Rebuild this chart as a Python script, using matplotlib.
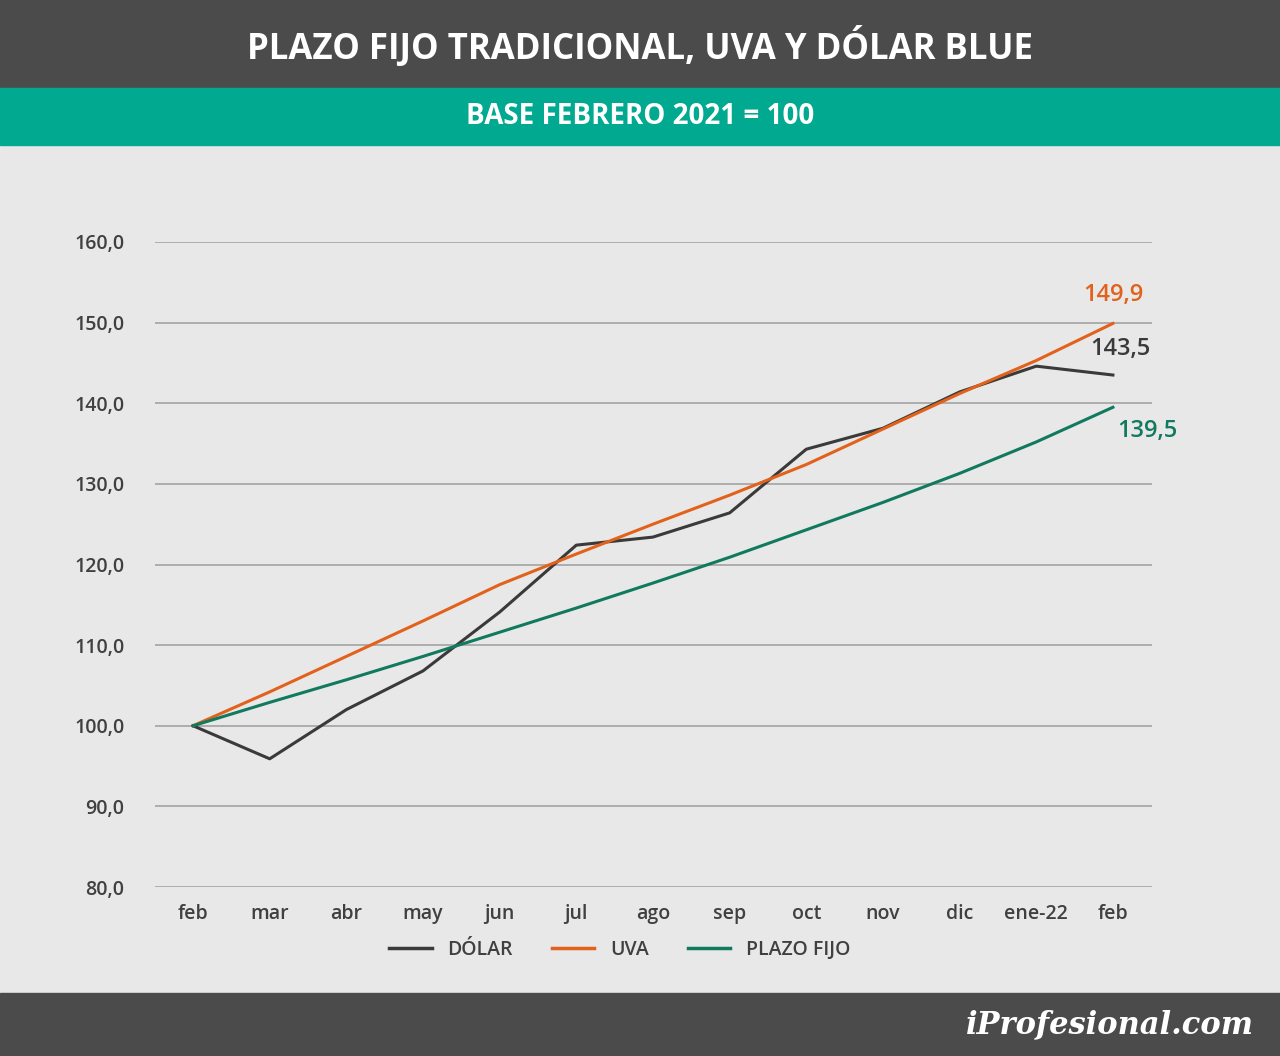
import matplotlib.pyplot as plt
from matplotlib.lines import Line2D
import matplotlib.patches as patches

meses = ['feb', 'mar', 'abr', 'may', 'jun', 'jul', 'ago', 'sep', 'oct', 'nov', 'dic', 'ene-22', 'feb']
dolar = [100, 95.9, 102.0, 106.8, 114.1, 122.4, 123.4, 126.4, 134.3, 136.9, 141.4, 144.6, 143.5]
uva = [100, 104.2, 108.6, 113.0, 117.5, 121.3, 125.0, 128.6, 132.4, 136.8, 141.2, 145.3, 149.9]
plazo_fijo = [100, 102.9, 105.7, 108.6, 111.6, 114.6, 117.7, 120.9, 124.3, 127.7, 131.3, 135.2, 139.5]
yticks = [80, 90, 100, 110, 120, 130, 140, 150, 160]

c_dolar = '#3a3a3a'
c_uva = '#e2621b'
c_pf = '#117a5e'

plt.rcParams['font.family'] = ['Open Sans', 'DejaVu Sans']
fig = plt.figure(figsize=(12.8, 10.56), dpi=100)
fig.patch.set_facecolor('#e8e8e9')

# bandas de titulo y pie
fig.add_artist(patches.Rectangle((0, 1 - 88 / 1056), 1, 88 / 1056, transform=fig.transFigure, color='#4b4b4b'))
fig.add_artist(patches.Rectangle((0, 1 - 145 / 1056), 1, 57 / 1056, transform=fig.transFigure, color='#00a98f'))
fig.add_artist(patches.Rectangle((0, 0), 1, 63 / 1056, transform=fig.transFigure, color='#4b4b4b'))
fig.text(0.5, 1 - 48 / 1056, 'PLAZO FIJO TRADICIONAL, UVA Y DÓLAR BLUE', color='white',
         fontsize=25, fontweight='bold', ha='center', va='center', fontstretch='condensed')
fig.text(0.5, 1 - 117 / 1056, 'BASE FEBRERO 2021 = 100', color='white',
         fontsize=20, fontweight='bold', ha='center', va='center')
fig.text(0.98, 31 / 1056, 'iProfesional.com', color='white', fontsize=22, fontstyle='italic',
         fontweight='bold', ha='right', va='center', family='DejaVu Serif')

ax = fig.add_axes([155 / 1280, 1 - 887 / 1056, 997 / 1280, 645 / 1056])
ax.set_facecolor('none')
x = list(range(len(meses)))
ax.plot(x, dolar, color=c_dolar, lw=2.2)
ax.plot(x, uva, color=c_uva, lw=2.2)
ax.plot(x, plazo_fijo, color=c_pf, lw=2.2)

ax.set_xlim(-0.496, 12.51)
ax.set_ylim(80, 160)
ax.set_yticks(yticks)
ax.set_yticklabels([f'{v:.1f}'.replace('.', ',') for v in yticks])
ax.set_xticks(x)
ax.set_xticklabels(meses)
ax.grid(axis='y', color='#a8a8a8', lw=1.3)
ax.set_axisbelow(True)
for s in ax.spines.values():
    s.set_visible(False)
ax.tick_params(length=0, labelsize=14, labelcolor='#404040', pad=12)
ax.tick_params(axis='y', pad=22)
for t in ax.get_xticklabels() + ax.get_yticklabels():
    t.set_fontweight('semibold')

ax.text(12, uva[-1] + 2, '149,9', color=c_uva, fontsize=17, fontweight='semibold', ha='center', va='bottom')
ax.text(12.1, dolar[-1] + 1.8, '143,5', color=c_dolar, fontsize=17, fontweight='semibold', ha='center', va='bottom')
ax.text(12.45, plazo_fijo[-1] - 1.5, '139,5', color=c_pf, fontsize=17, fontweight='semibold', ha='center', va='top')

handles = [Line2D([], [], color=c, lw=2.5) for c in (c_dolar, c_uva, c_pf)]
fig.legend(handles, ['DÓLAR', 'UVA', 'PLAZO FIJO'], loc='center', bbox_to_anchor=(0.484, 1 - 950 / 1056),
           ncol=3, frameon=False, fontsize=14, handlelength=2.2, columnspacing=2.0,
           labelcolor='#404040', prop={'weight': 'semibold', 'size': 14})

fig.savefig('out.png', dpi=100, facecolor=fig.get_facecolor())
